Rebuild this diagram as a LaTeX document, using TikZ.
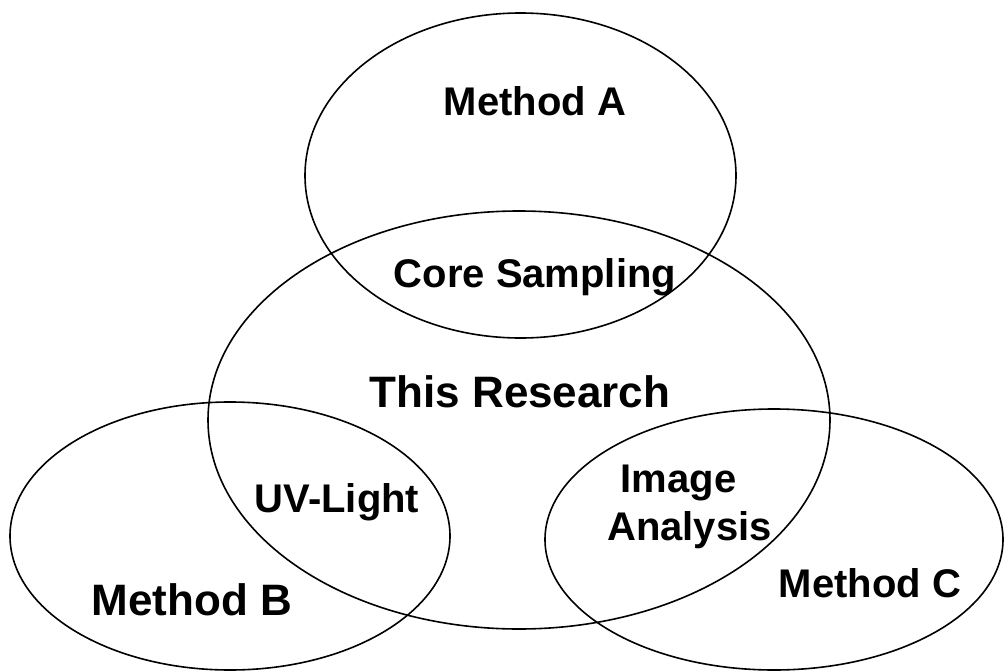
\documentclass[tikz,border=0pt]{standalone}
\usepackage{fontspec}
\setmainfont{Liberation Sans}
\begin{document}
\begin{tikzpicture}[x=1pt,y=-1pt,
  ring/.style={line width=1.6pt,draw=black},
  lbl/.style={font=\fontsize{40}{48}\selectfont\bfseries,anchor=base,inner sep=0pt},
  biglbl/.style={font=\fontsize{44}{52}\selectfont\bfseries,anchor=base,inner sep=0pt}]
\useasboundingbox (0,0) rectangle (1005,672);
\coordinate (cA) at (520.5,175.5);
\coordinate (cR) at (519,420);
\coordinate (cB) at (230,536);
\coordinate (cC) at (774,539.5);
\draw[ring] (cA) ellipse [x radius=215.5, y radius=162.5];
\draw[ring] (cR) ellipse [x radius=311, y radius=209];
\draw[ring] (cB) ellipse [x radius=220, y radius=134];
\draw[ring] (cC) ellipse [x radius=229, y radius=130.5];
\node[lbl] (mA) at (535,115) {Method A};
\node[lbl] (core) at (535,287) {Core Sampling};
\node[biglbl] (res) at (520,407) {This Research};
\node[lbl] (uv) at (337,512) {UV-Light};
\node[lbl] (img) at (678.5,492) {Image};
\node[lbl] (ana) at (689.5,540) {Analysis};
\node[biglbl] (mB) at (192,615) {Method B};
\node[lbl] (mC) at (870,597) {Method C};
\end{tikzpicture}
\end{document}
